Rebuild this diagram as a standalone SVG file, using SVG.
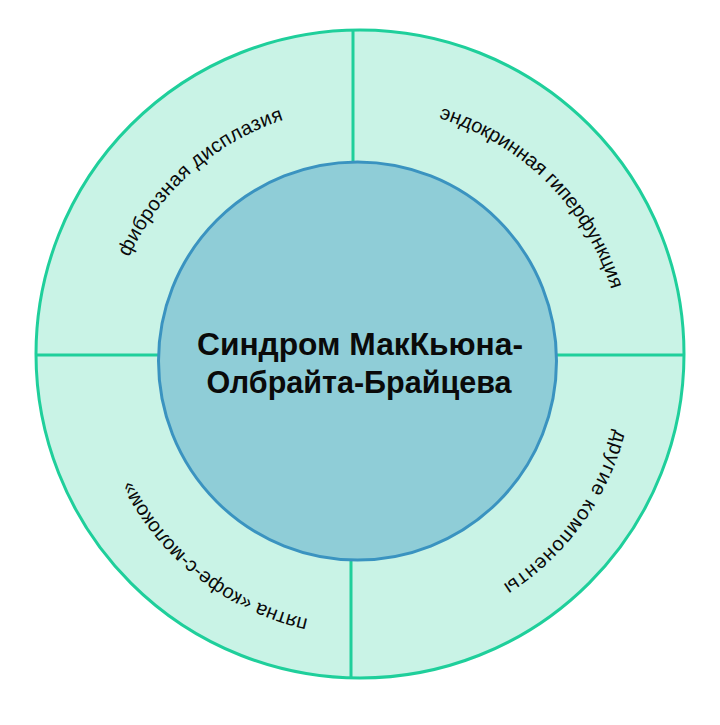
<svg xmlns="http://www.w3.org/2000/svg" width="720" height="725" viewBox="0 0 720 725">
  <style>
    .ring { fill: #c9f3e6; stroke: #1fcf9b; stroke-width: 3; }
    .divider { stroke: #1fcf9b; stroke-width: 3; fill: none; }
    .core { fill: #8fcdd7; stroke: #3a93c0; stroke-width: 3; }
    .title { font-family: "Liberation Sans", Arial, sans-serif; font-size: 31px; font-weight: bold; fill: #0a0a0a; text-anchor: middle; }
    .arc-label { font-family: "Liberation Sans", Arial, sans-serif; font-size: 20px; fill: #0a0a0a; text-anchor: middle; }
  </style>
  <defs>
    <path id="arc1" d="M 110.3 418.1 A 259 259 0 0 1 445.7 120.2" fill="none"/>
    <path id="arc2" d="M 296.1 116.1 A 259 259 0 0 1 614.4 432.2" fill="none"/>
    <path id="arc3" d="M 600.4 260.3 A 259 259 0 0 1 337.4 623.6" fill="none"/>
    <path id="arc4" d="M 460.6 606.3 A 259 259 0 0 1 107.6 329.5" fill="none"/>
  </defs>
  <rect width="720" height="725" fill="#ffffff"/>
  <g id="outer-ring">
    <circle class="ring" cx="360" cy="354" r="324"/>
  </g>
  <g id="dividers">
    <line class="divider" x1="353" y1="30" x2="353" y2="165"/>
    <line class="divider" x1="351" y1="558" x2="351" y2="678"/>
    <line class="divider" x1="36" y1="355" x2="162" y2="355"/>
    <line class="divider" x1="553" y1="355" x2="684" y2="355"/>
  </g>
  <g id="center-node">
    <circle class="core" cx="357.5" cy="361" r="199"/>
    <text class="title" x="360" y="355" textLength="326" lengthAdjust="spacingAndGlyphs">Синдром МакКьюна-</text>
    <text class="title" x="359" y="393" textLength="305" lengthAdjust="spacingAndGlyphs">Олбрайта-Брайцева</text>
  </g>
  <g id="label-fibrous">
    <text class="arc-label"><textPath href="#arc1" startOffset="50%" textLength="213" lengthAdjust="spacing">фиброзная дисплазия</textPath></text>
  </g>
  <g id="label-endocrine">
    <text class="arc-label"><textPath href="#arc2" startOffset="50%" textLength="253" lengthAdjust="spacing">эндокринная гиперфункция</textPath></text>
  </g>
  <g id="label-other">
    <text class="arc-label"><textPath href="#arc3" startOffset="50%" textLength="196" lengthAdjust="spacing">другие компоненты</textPath></text>
  </g>
  <g id="label-spots">
    <text class="arc-label"><textPath href="#arc4" startOffset="50%" textLength="232" lengthAdjust="spacing">пятна «кофе-с-молоком»</textPath></text>
  </g>
</svg>
